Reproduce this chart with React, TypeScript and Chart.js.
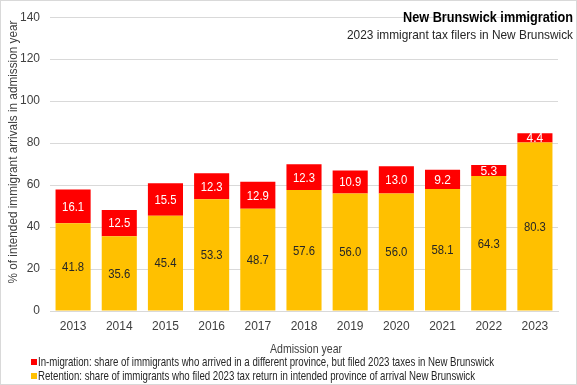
import React, { useEffect, useRef } from "react";
import { Chart, registerables } from "chart.js";

Chart.register(...registerables);

const years = ["2013", "2014", "2015", "2016", "2017", "2018", "2019", "2020", "2021", "2022", "2023"];
const retention = [41.8, 35.6, 45.4, 53.3, 48.7, 57.6, 56.0, 56.0, 58.1, 64.3, 80.3];
const inMigration = [16.1, 12.5, 15.5, 12.3, 12.9, 12.3, 10.9, 13.0, 9.2, 5.3, 4.4];
const yTicks = [0, 20, 40, 60, 80, 100, 120, 140];

const titleText = "New Brunswick immigration";
const subtitleText = "2023 immigrant tax filers in New Brunswick";
const xTitle = "Admission year";
const yTitle = "% of intended immigrant arrivals in admission year";
const inMigLabel = "In-migration: share of immigrants who arrived in a different province, but filed 2023 taxes in New Brunswick";
const retLabel = "Retention: share of immigrants who filed 2023 tax return in intended province of arrival New Brunswick";

const FONT = "'Liberation Sans', Arial, sans-serif";
const RED = "#FF0000";
const YELLOW = "#FFC000";
const TXT = "#404040";

const extrasPlugin = {
  id: "extras",
  afterDatasetsDraw(chart: any) {
    const ctx = chart.ctx;
    ctx.save();
    ctx.font = `12px ${FONT}`;
    ctx.textAlign = "center";
    ctx.textBaseline = "middle";
    chart.data.datasets.forEach((ds: any, di: number) => {
      const meta = chart.getDatasetMeta(di);
      meta.data.forEach((el: any, i: number) => {
        const v = ds.data[i];
        const cy = (el.y + el.base) / 2;
        ctx.fillStyle = di === 0 ? "#262626" : "#FFFFFF";
        ctx.fillText(v.toFixed(1), el.x, cy + 1, 22);
      });
    });
    ctx.restore();
  },
  afterDraw(chart: any) {
    const ctx = chart.ctx;
    const w = chart.width;
    const h = chart.height;
    const area = chart.chartArea;
    ctx.save();
    // border
    ctx.strokeStyle = "#D9D9D9";
    ctx.lineWidth = 1;
    ctx.strokeRect(0.5, 0.5, w - 1, h - 1);
    // titles
    ctx.textAlign = "right";
    ctx.textBaseline = "middle";
    ctx.fillStyle = "#000000";
    ctx.font = `bold 15px ${FONT}`;
    ctx.fillText(titleText, 573, 18, 170);
    ctx.fillStyle = "#262626";
    ctx.font = `13px ${FONT}`;
    ctx.fillText(subtitleText, 573, 35, 226);
    // axis titles
    ctx.fillStyle = TXT;
    ctx.textAlign = "center";
    ctx.font = `13px ${FONT}`;
    ctx.fillText(xTitle, (area.left + area.right) / 2 + 2, 349, 72);
    ctx.save();
    ctx.translate(13, 152);
    ctx.rotate(-Math.PI / 2);
    ctx.fillText(yTitle, 0, 0, 263);
    ctx.restore();
    // legend
    ctx.textAlign = "left";
    ctx.font = `13px ${FONT}`;
    const rows = [
      { color: RED, text: inMigLabel, y: 362, mw: 456 },
      { color: YELLOW, text: retLabel, y: 376, mw: 437 },
    ];
    rows.forEach((r) => {
      ctx.fillStyle = r.color;
      ctx.fillRect(31, r.y - 3, 6, 6);
      ctx.fillStyle = "#262626";
      ctx.fillText(r.text, 38, r.y + 0.5, r.mw);
    });
    ctx.restore();
  },
};

export default function App() {
  const ref = useRef<HTMLCanvasElement | null>(null);
  useEffect(() => {
    document.body.style.margin = "0";
    const canvas = ref.current!;
    const chart = new Chart(canvas, {
      type: "bar",
      data: {
        labels: years,
        datasets: [
          {
            label: retLabel,
            data: retention,
            backgroundColor: YELLOW,
            barPercentage: 0.76,
            categoryPercentage: 1,
          },
          {
            label: inMigLabel,
            data: inMigration,
            backgroundColor: RED,
            barPercentage: 0.76,
            categoryPercentage: 1,
          },
        ],
      },
      options: {
        animation: false,
        responsive: false,
        maintainAspectRatio: false,
        layout: { padding: { top: 10, right: 19, bottom: 29, left: 0 } },
        plugins: {
          legend: { display: false },
          title: { display: false },
          tooltip: { enabled: false },
        },
        scales: {
          x: {
            stacked: true,
            grid: { display: false, drawTicks: false },
            border: { color: "#D9D9D9" },
            ticks: { color: TXT, font: { family: FONT, size: 12 }, padding: 8 },
            afterFit(s: any) {
              s.height = 45;
            },
          },
          y: {
            stacked: true,
            min: 0,
            max: 140,
            afterBuildTicks(s: any) {
              s.ticks = yTicks.map((v) => ({ value: v }));
            },
            grid: { color: "#D9D9D9", drawTicks: false },
            border: { display: false },
            ticks: { color: TXT, font: { family: FONT, size: 12 }, padding: 10 },
            afterFit(s: any) {
              s.width = 50;
            },
          },
        },
      },
      plugins: [extrasPlugin],
    });
    return () => chart.destroy();
  }, []);
  return (
    <div style={{ width: 577, height: 385 }}>
      <canvas ref={ref} width={577} height={385} style={{ display: "block" }} />
    </div>
  );
}
